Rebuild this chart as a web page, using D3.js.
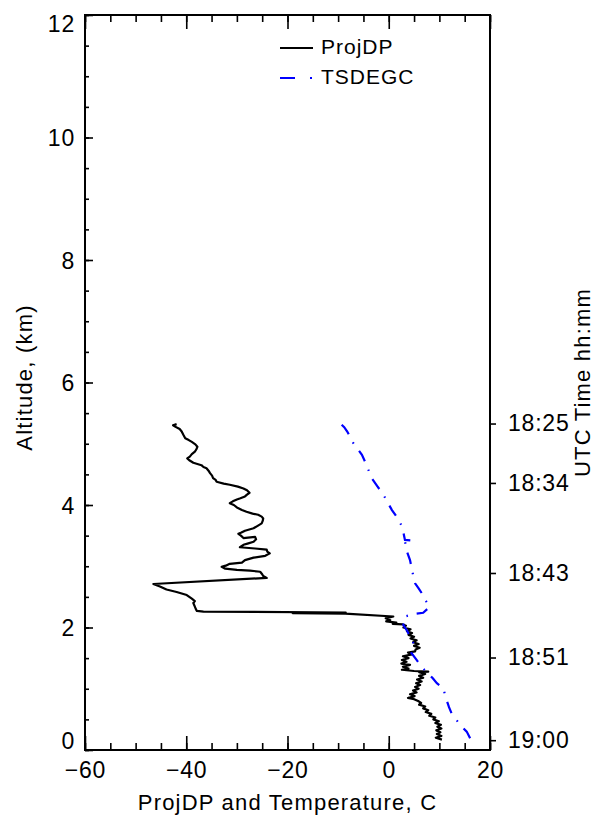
<!DOCTYPE html>
<html>
<head>
<meta charset="utf-8">
<script src="https://cdn.jsdelivr.net/npm/d3@7"></script>
<style>
  html, body { margin: 0; padding: 0; background: #fff; }
  svg { display: block; font-family: "Liberation Sans", Arial, sans-serif; }
</style>
</head>
<body>
<svg id="chart" width="598" height="818"></svg>
<script>
// ---- data ----
const xTicks = [-60, -40, -20, 0, 20];
const yTicks = [0, 2, 4, 6, 8, 10, 12];
const timeLabels = ["18:25", "18:34", "18:43", "18:51", "19:00"];
const timeAlt = [5.33, 4.36, 2.89, 1.51, 0.16];

const dpAlt = [5.32,5.30,5.28,5.24,5.20,5.15,5.09,5.06,5.03,4.99,4.95,4.91,4.87,4.83,4.79,4.76,4.73,4.69,4.65,4.62,4.60,4.56,4.52,4.48,4.44,4.41,4.38,4.35,4.33,4.30,4.27,4.24,4.20,4.17,4.14,4.11,4.09,4.06,4.03,4.00,3.96,3.92,3.89,3.86,3.84,3.81,3.78,3.74,3.70,3.66,3.62,3.58,3.55,3.53,3.50,3.46,3.48,3.44,3.40,3.37,3.35,3.31,3.29,3.27,3.24,3.21,3.17,3.14,3.10,3.06,3.04,3.01,2.99,2.96,2.94,2.93,2.91,2.87,2.84,2.81,2.71,2.67,2.62,2.58,2.53,2.47,2.43,2.40,2.34,2.30,2.27,2.26,2.245,2.235,2.228,2.18,2.15,2.12,2.10,2.08,2.06,2.05,2.03,2.00,1.97,1.94,1.91,1.88,1.85,1.82,1.79,1.76,1.73,1.70,1.67,1.64,1.61,1.59,1.56,1.53,1.50,1.47,1.44,1.41,1.39,1.36,1.33,1.31,1.29,1.28,1.27,1.24,1.21,1.18,1.15,1.12,1.09,1.06,1.03,1.00,0.97,0.94,0.91,0.88,0.85,0.83,0.80,0.77,0.74,0.71,0.68,0.65,0.62,0.59,0.56,0.53,0.50,0.47,0.44,0.41,0.38,0.35,0.32,0.29,0.26,0.23,0.20,0.17];
const dpTemp = [-41.9,-42.6,-42.2,-41.3,-40.9,-40.6,-40.2,-39.5,-38.9,-38.2,-37.8,-38.0,-38.3,-38.9,-39.3,-39.8,-39.4,-38.6,-37.0,-36.6,-36.0,-35.6,-35.3,-34.9,-34.7,-34.2,-34.0,-32.6,-31.4,-29.8,-28.7,-28.0,-27.5,-28.0,-28.4,-29.3,-30.0,-30.8,-31.4,-30.6,-30.0,-29.0,-28.1,-26.9,-25.8,-25.1,-24.8,-24.9,-25.1,-25.9,-26.7,-28.4,-29.1,-29.7,-29.2,-28.7,-26.4,-26.2,-26.7,-27.9,-28.7,-29.4,-26.4,-24.1,-24.0,-23.5,-24.4,-26.7,-28.4,-29.0,-31.4,-32.2,-33.0,-32.3,-30.0,-27.4,-25.4,-25.0,-24.8,-24.1,-46.5,-45.2,-43.9,-41.9,-39.9,-38.9,-38.3,-38.6,-38.3,-38.1,-37.9,-36.6,-8.5,-19.0,-8.6,0.9,-0.6,0.3,-0.5,1.5,0.8,2.8,3.4,2.9,4.3,3.6,4.6,3.9,5.0,4.3,5.5,4.8,5.9,5.0,6.1,5.3,5.2,3.8,4.6,2.8,3.9,2.6,3.5,2.5,4.2,2.8,3.9,2.6,5.0,7.8,6.0,7.2,6.0,6.8,5.6,6.5,5.4,6.2,5.2,5.9,4.8,5.5,4.2,5.1,3.8,5.0,5.8,6.4,6.0,7.2,6.8,7.8,7.3,8.4,8.0,9.2,8.8,9.9,9.2,10.3,9.6,10.4,9.4,10.2,9.5,10.4,9.3,10.5];

const tAlt = [5.31,5.27,5.20,5.12,5.01,4.90,4.82,4.71,4.57,4.44,4.30,4.16,4.04,3.92,3.84,3.75,3.65,3.55,3.43,3.42,3.41,3.24,3.10,2.94,2.82,2.72,2.64,2.55,2.45,2.34,2.30,2.24,2.22,2.18,2.10,2.04,1.95,1.85,1.74,1.66,1.58,1.47,1.40,1.33,1.25,1.17,1.09,1.01,0.90,0.82,0.70,0.60,0.50,0.41,0.30,0.17];
const tTemp = [-9.3,-8.8,-8.2,-7.7,-7.0,-6.0,-5.3,-4.7,-4.0,-3.4,-2.2,-1.0,-0.2,0.6,1.3,2.0,2.6,2.9,3.2,4.5,3.2,3.6,4.2,4.6,4.9,5.2,5.9,6.6,7.2,8.1,7.6,6.8,5.0,3.2,2.8,2.9,3.6,4.2,4.9,4.6,4.5,5.5,6.1,6.8,7.8,8.7,9.5,10.8,11.1,11.4,11.9,12.4,13.3,14.1,15.4,16.2];

const seriesNames = ["ProjDP", "TSDEGC"];

// ---- layout ----
const L = 85, R = 490, T = 15, B = 750;
const svg = d3.select("#chart");
const x = d3.scaleLinear().domain([-60, 20]).range([L, R]);
const y = d3.scaleLinear().domain([0, 12]).range([B, T]);
const fmt = d3.format("d");

const xMinor = d3.range(-60, 20.01, 5);
const yMinor = d3.range(0, 12.01, 0.5);

function styleAxis(g) {
  g.select(".domain").remove();
  g.selectAll("line").attr("stroke", "#000").attr("stroke-width", 1.6);
  g.selectAll("text").attr("fill", "#000").attr("font-size", 23).attr("font-family", "Liberation Sans, Arial, sans-serif");
}

// bottom
svg.append("g").attr("transform", `translate(0,${B})`)
  .call(d3.axisBottom(x).tickValues(xMinor).tickSize(-7).tickFormat(""))
  .call(styleAxis);
svg.append("g").attr("transform", `translate(0,${B})`)
  .call(d3.axisBottom(x).tickValues(xTicks).tickSize(-14).tickPadding(12).tickFormat(fmt))
  .call(styleAxis)
  .call(g => g.selectAll("text").attr("letter-spacing", 0.8));
// top
svg.append("g").attr("transform", `translate(0,${T})`)
  .call(d3.axisTop(x).tickValues(xMinor).tickSize(-7).tickFormat(""))
  .call(styleAxis);
svg.append("g").attr("transform", `translate(0,${T})`)
  .call(d3.axisTop(x).tickValues(xTicks).tickSize(-14).tickFormat(""))
  .call(styleAxis);
// left
svg.append("g").attr("transform", `translate(${L},0)`)
  .call(d3.axisLeft(y).tickValues(yMinor).tickSize(-4).tickFormat(""))
  .call(styleAxis);
svg.append("g").attr("transform", `translate(${L},0)`)
  .call(d3.axisLeft(y).tickValues(yTicks).tickSize(-8).tickPadding(10).tickFormat(fmt))
  .call(styleAxis)
  .call(g => g.selectAll("text").attr("letter-spacing", 0.8)
    .attr("dy", d => d === 0 ? "-0.05em" : d === 12 ? "0.72em" : "0.35em"));
// right time axis
svg.append("g").attr("transform", `translate(${R},0)`)
  .call(d3.axisRight(y).tickValues(timeAlt).tickSize(6).tickPadding(12).tickFormat((d, i) => timeLabels[i]))
  .call(styleAxis)
  .call(g => g.selectAll("text").attr("letter-spacing", 0.8));

// frame
svg.append("rect").attr("x", L).attr("y", T).attr("width", R - L).attr("height", B - T)
  .attr("fill", "none").attr("stroke", "#000").attr("stroke-width", 2);

// lines
const dpData = dpAlt.map((a, i) => [dpTemp[i], a]);
const tData = tAlt.map((a, i) => [tTemp[i], a]);
const line = d3.line().x(d => x(d[0])).y(d => y(d[1]));

svg.append("path").datum(dpData).attr("d", line)
  .attr("fill", "none").attr("stroke", "#000").attr("stroke-width", 2.2).attr("stroke-linejoin", "round");
svg.append("path").datum(tData).attr("d", line)
  .attr("fill", "none").attr("stroke", "#0000ff").attr("stroke-width", 2.2)
  .attr("stroke-dasharray", "12,9,1.5,9");

// axis titles
svg.append("text").attr("x", (L + R) / 2).attr("y", 810).attr("text-anchor", "middle")
  .attr("font-size", 22).attr("letter-spacing", 1.2).text("ProjDP and Temperature, C");
svg.append("text").attr("transform", `translate(32,${(T + B) / 2 - 5}) rotate(-90)`)
  .attr("text-anchor", "middle").attr("font-size", 22).attr("letter-spacing", 1.2).text("Altitude, (km)");
svg.append("text").attr("transform", `translate(590,${(T + B) / 2}) rotate(-90)`)
  .attr("text-anchor", "middle").attr("font-size", 22).attr("letter-spacing", 1.2).text("UTC Time hh:mm");

// legend
const leg = svg.append("g");
const legY = [48, 78];
const legColor = ["#000", "#0000ff"];
const legDash = [null, "15,15,2,15"];
seriesNames.forEach((name, i) => {
  leg.append("line").attr("x1", 280).attr("x2", 313).attr("y1", legY[i]).attr("y2", legY[i])
    .attr("stroke", legColor[i]).attr("stroke-width", 2).attr("stroke-dasharray", legDash[i]);
  leg.append("text").attr("x", 321).attr("y", legY[i] + 6).attr("font-size", 21).attr("letter-spacing", 1)
    .text(name);
});
</script>
</body>
</html>
